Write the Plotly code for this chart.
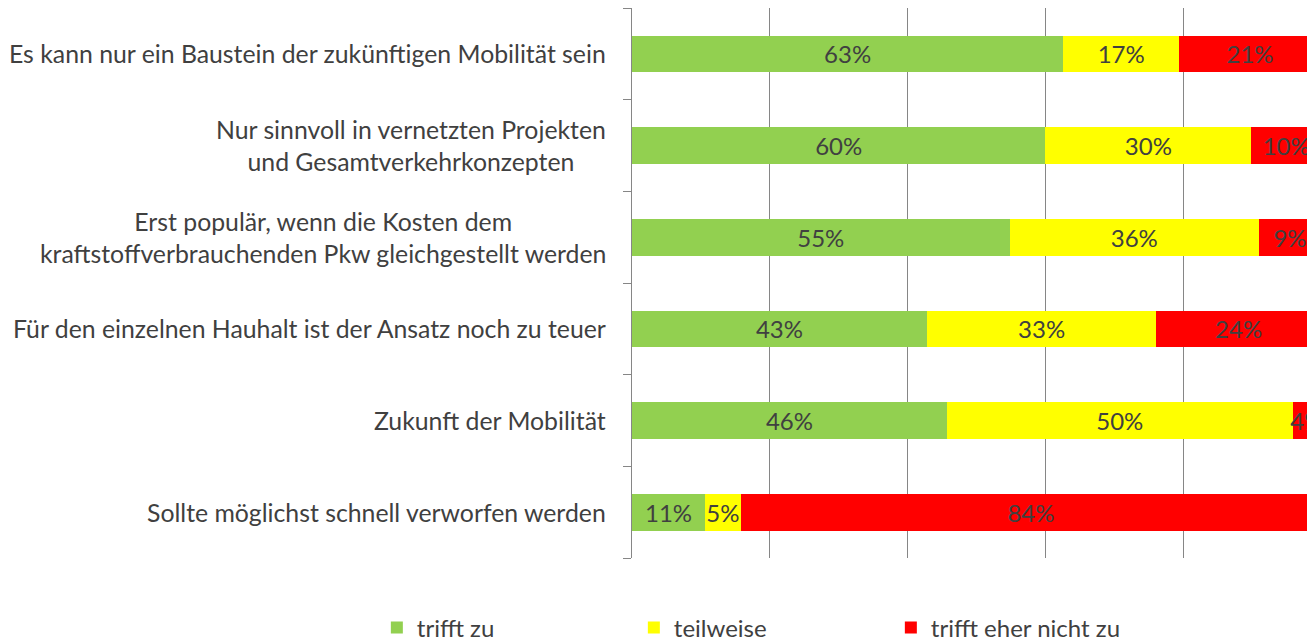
import plotly.graph_objects as go

categories = [
    "Es kann nur ein Baustein der zukünftigen Mobilität sein",
    "Nur sinnvoll in vernetzten Projekten<br>und Gesamtverkehrkonzepten",
    "Erst populär, wenn die Kosten dem<br>kraftstoffverbrauchenden Pkw gleichgestellt werden",
    "Für den einzelnen Hauhalt ist der Ansatz noch zu teuer",
    "Zukunft der Mobilität",
    "Sollte möglichst schnell verworfen werden",
]

trifft_zu = [62.6, 60.0, 54.8, 42.8, 45.7, 10.6]
teilweise = [16.8, 29.9, 36.2, 33.3, 50.2, 5.2]
nicht_zu = [20.6, 10.1, 9.0, 23.9, 4.1, 84.2]

series = [
    ("trifft zu", trifft_zu, "#92D050"),
    ("teilweise", teilweise, "#FFFF00"),
    ("trifft eher nicht zu", nicht_zu, "#FF0000"),
]

FONT = "Lato"
TEXT = "#404040"

fig = go.Figure()
for name, vals, color in series:
    fig.add_trace(
        go.Bar(
            y=categories,
            x=vals,
            name=name,
            orientation="h",
            marker=dict(color=color, line=dict(width=0)),
            texttemplate="%{x:.0f}%",
            textposition="inside",
            insidetextanchor="middle",
            textangle=0,
            constraintext="none",
            textfont=dict(family=FONT, size=24, color=TEXT),
            hovertemplate="%{y}: %{x:.0f}%<extra>" + name + "</extra>",
        )
    )

# category labels, centred per line and right-aligned against the axis
for cat in categories:
    fig.add_annotation(
        x=0, xref="paper", y=cat, yref="y",
        text=cat, showarrow=False,
        xanchor="right", xshift=-24, align="center",
        font=dict(family=FONT, size=24.8, color=TEXT),
    )

# the original is cut off at the right edge, so the x range stops short of 100%
fig.update_layout(
    barmode="stack",
    bargap=0.6,
    width=1307,
    height=652,
    margin=dict(l=632, r=0, t=8, b=94),
    plot_bgcolor="#FFFFFF",
    paper_bgcolor="#FFFFFF",
    font=dict(family=FONT, color=TEXT),
    showlegend=True,
    legend=dict(
        orientation="h",
        x=-0.378, xanchor="left",
        y=-0.127, yanchor="middle",
        entrywidth=212,
        font=dict(family=FONT, size=24, color=TEXT),
        traceorder="normal",
    ),
)

fig.update_xaxes(
    range=[0, 97.97],
    dtick=20,
    showgrid=True,
    gridcolor="#868686",
    gridwidth=1,
    zeroline=False,
    showticklabels=False,
    showline=False,
)
fig.update_yaxes(
    categoryorder="array",
    categoryarray=categories[::-1],
    tickson="boundaries",
    ticks="outside",
    ticklen=8,
    tickcolor="#868686",
    showticklabels=False,
    showline=True,
    linecolor="#868686",
    linewidth=1,
    showgrid=False,
)

fig.write_html(
    "out.html",
    config={"displayModeBar": False},
    post_script="document.body.style.margin='0';document.body.style.overflow='hidden';",
)
